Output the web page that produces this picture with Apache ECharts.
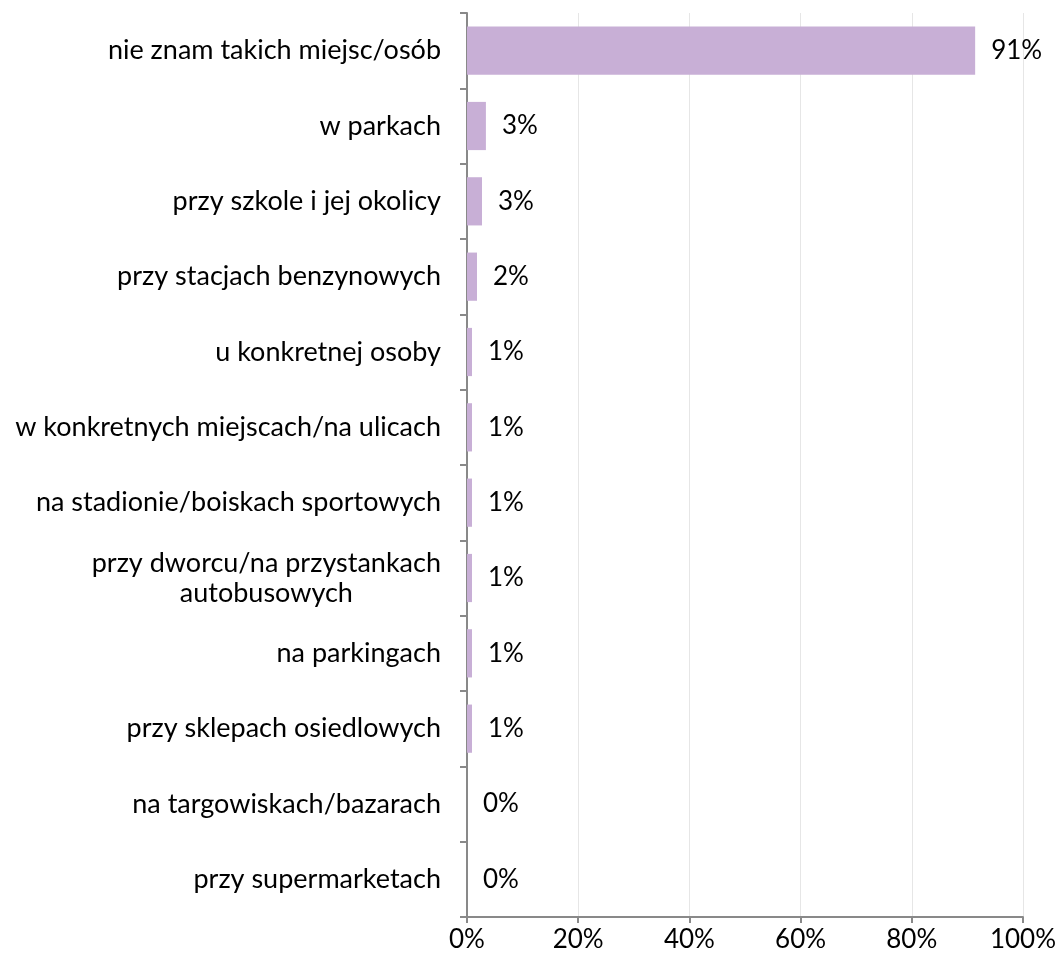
<!DOCTYPE html>
<html>
<head>
<meta charset="utf-8">
<script src="https://cdn.jsdelivr.net/npm/echarts@6/dist/echarts.min.js"></script>
<style>
  html, body { margin: 0; padding: 0; background: #fff; }
  #chart { width: 1059px; height: 965px; }
</style>
</head>
<body>
<div id="chart"></div>
<script>
var categories = [
    'nie znam takich miejsc/osób',
    'w parkach',
    'przy szkole i jej okolicy',
    'przy stacjach benzynowych',
    'u konkretnej osoby',
    'w konkretnych miejscach/na ulicach',
    'na stadionie/boiskach sportowych',
    'przy dworcu/na przystankach\nautobusowych',
    'na parkingach',
    'przy sklepach osiedlowych',
    'na targowiskach/bazarach',
    'przy supermarketach'
];
var values = [91.4, 3.4, 2.7, 1.8, 0.9, 0.9, 0.9, 0.9, 0.9, 0.9, 0, 0];
var xTicks = [0, 20, 40, 60, 80, 100];

var font = 'Lato';
var myChart = echarts.init(document.getElementById('chart'));
var option = {
    animation: false,
    grid: {
        left: 467,
        right: 36,
        top: 13,
        bottom: 48,
        containLabel: false
    },
    xAxis: {
        type: 'value',
        min: xTicks[0],
        max: xTicks[xTicks.length - 1],
        interval: 20,
        axisLine: { show: true, lineStyle: { color: '#898989', width: 2 } },
        axisTick: { show: true, length: 6, lineStyle: { color: '#898989', width: 2 } },
        axisLabel: {
            formatter: '{value}%',
            color: '#000',
            fontFamily: font,
            fontSize: 26,
            margin: 10
        },
        splitLine: { show: true, lineStyle: { color: '#e6e6e6', width: 1 } }
    },
    yAxis: {
        type: 'category',
        inverse: true,
        data: categories,
        axisLine: { show: true, lineStyle: { color: '#898989', width: 2 } },
        axisTick: { show: true, length: 7, lineStyle: { color: '#898989', width: 2 } },
        axisLabel: {
            color: '#000',
            fontFamily: font,
            fontSize: 27,
            margin: 26,
            lineHeight: 30,
            formatter: function (v) {
                return v.split('\n').map(function (s) { return '{c|' + s + '}'; }).join('\n');
            },
            rich: {
                c: { align: 'center', color: '#000', fontFamily: font, fontSize: 27, lineHeight: 30 }
            }
        },
        splitLine: { show: false }
    },
    series: [{
        type: 'bar',
        data: values,
        barCategoryGap: '36%',
        itemStyle: { color: '#c8afd6' },
        label: {
            show: true,
            position: 'right',
            distance: 16,
            color: '#000',
            fontFamily: font,
            fontSize: 26,
            formatter: function (p) { return Math.round(p.value) + '%'; }
        }
    }]
};
myChart.setOption(option);
</script>
</body>
</html>
